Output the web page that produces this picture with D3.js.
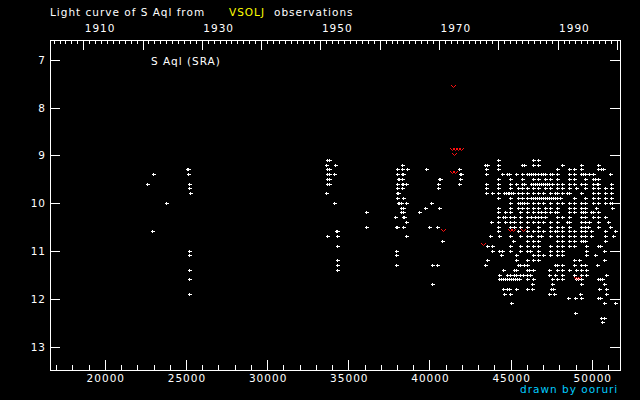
<html>
<head>
<meta charset="utf-8">
<script src="https://cdn.jsdelivr.net/npm/d3@7"></script>
<style>
  body { margin: 0; background: #000; }
  svg text { font-family: "DejaVu Sans", sans-serif; font-size: 10.5px; letter-spacing: 1px; fill: #fff; }
</style>
</head>
<body>
<div id="chart"></div>
<script>
// JD - 2400000 and visual magnitude
const earlyObs = [
  [23019, 9.4], [22649, 9.6], [23819, 10.0], [22957, 10.6],
  [25110, 9.3], [25170, 9.3], [25175, 9.4], [25236, 9.6], [25236, 9.7], [25298, 9.8],
  [25236, 11.0], [25236, 11.1], [25236, 11.4], [25236, 11.6], [25236, 11.9]
];

const fiftiesObs = [
  [33700, 9.1], [33824, 9.1], [33680, 9.2], [34230, 9.2], [33700, 9.3], [33824, 9.3],
  [33700, 9.4], [33824, 9.4], [34169, 9.4], [33700, 9.5], [33824, 9.5], [33700, 9.6],
  [33824, 9.6], [33680, 9.8], [34169, 10.0], [34290, 10.6], [34350, 10.6], [33737, 10.7],
  [34316, 10.7], [34316, 10.9], [34316, 11.2], [34316, 11.3], [34316, 11.4],
  [36140, 10.2], [36140, 10.5]
];

const sixtiesObs = [
  [38358, 9.2],
  [38050, 9.3], [38358, 9.3], [38665, 9.3], [39836, 9.3], [41869, 9.3],
  [38050, 9.4], [38358, 9.4], [38420, 9.4], [41900, 9.4], [41960, 9.4],
  [38080, 9.5], [38140, 9.5], [38358, 9.5], [40590, 9.5], [40650, 9.5], [41930, 9.5],
  [38050, 9.6], [38358, 9.6], [38420, 9.6], [38604, 9.6], [40575, 9.6], [41869, 9.6],
  [38050, 9.7], [38358, 9.7], [40575, 9.7],
  [38050, 9.8], [38111, 9.8],
  [38050, 9.9], [38419, 9.9],
  [38080, 10.0], [38140, 10.0], [38296, 10.0], [38604, 10.0], [40144, 10.0],
  [38296, 10.1], [38419, 10.1], [39774, 10.1], [40620, 10.1],
  [38296, 10.2], [38419, 10.2], [39405, 10.2],
  [37926, 10.3], [38390, 10.3], [38450, 10.3],
  [38604, 10.4],
  [37988, 10.5], [38050, 10.5], [38419, 10.5], [40021, 10.5], [40513, 10.5],
  [38604, 10.7], [40822, 10.8],
  [37988, 11.0], [37988, 11.1], [37988, 11.3], [40206, 11.3], [40513, 11.3],
  [40206, 11.7]
];

// recent observations, grouped by magnitude
const recentRows = [
  [9.1, [44232, 46429, 46737]],
  [9.2, [43431, 43555, 44232, 45751, 45874, 46429, 46737, 48215, 49385, 50432]],
  [9.3, [43493, 44232, 47866, 48646, 48954, 49385, 50432, 50617, 50740]],
  [9.4, [43493, 44519, 44827, 44951, 45361, 45751, 46059, 46182, 46306, 46429, 46552, 46737, 46880, 47004, 47168, 47455, 47599, 47907, 48646, 48954, 49385, 49508, 49631, 49878, 50124, 51171]],
  [9.5, [44232, 45012, 45751, 46429, 46737, 47168, 47455, 47907, 48646, 48954, 49631, 50124, 50247, 50432]],
  [9.6, [43493, 44232, 45012, 45341, 45751, 45874, 46306, 46429, 46552, 46675, 46798, 46921, 47045, 47168, 47291, 47414, 47578, 47907, 48215, 48646, 48954, 49385, 49631, 50124, 50329, 50432, 51233]],
  [9.7, [43493, 44232, 45012, 45505, 45751, 46059, 46429, 46737, 47168, 47455, 47907, 48215, 48646, 49056, 49631, 50124, 50432, 50863, 51233]],
  [9.8, [43493, 43904, 44232, 44643, 44745, 44848, 44951, 45074, 45197, 45505, 45751, 46059, 46429, 46737, 47045, 47455, 47763, 47907, 48215, 48523, 48646, 49385, 50124, 50432, 50863, 51233]],
  [9.9, [44232, 45012, 45505, 45751, 46059, 46306, 46429, 46552, 46675, 46798, 46921, 47045, 47168, 47291, 47414, 47537, 47661, 47784, 47907, 48071, 48954, 49631, 50124, 50432, 50863, 51233]],
  [10.0, [45012, 45505, 45628, 45751, 45874, 46059, 46429, 46737, 47045, 47455, 47907, 48215, 48646, 48954, 49385, 49631, 50124, 50432, 50863, 51171, 51294]],
  [10.1, [44232, 45012, 45505, 45751, 46059, 46429, 46737, 47168, 47455, 47907, 48646, 48954, 49385, 49631, 50309, 51294]],
  [10.2, [44232, 44663, 45012, 45628, 46059, 46429, 46737, 46880, 47168, 47455, 47763, 47907, 48646, 48954, 49385, 49508, 49631, 50001, 50124, 50432]],
  [10.3, [44232, 44540, 44663, 45012, 45258, 45628, 46059, 46306, 46552, 46737, 46921, 47168, 47907, 48215, 48646, 49385, 49631, 50124, 50432, 50863]],
  [10.4, [43842, 44232, 44663, 45012, 45258, 45628, 46059, 46429, 46737, 47045, 47455, 47907, 48523, 48646, 49385, 49631, 49878, 50432, 51048]],
  [10.5, [44232, 45012, 45258, 45628, 46059, 46737, 47455, 47907, 48215, 48646, 49385, 49631, 49816, 50432, 51171]],
  [10.6, [44232, 45505, 46059, 46429, 46737, 47045, 47455, 47763, 47907, 48215, 48646, 48954, 49385, 49631, 50001, 50863, 51479]],
  [10.7, [43780, 44335, 45012, 45628, 46059, 46306, 46737, 46880, 47455, 47907, 48215, 48646, 48954, 49385, 49631, 50001, 50863, 51356]],
  [10.8, [45197, 46059, 46429, 46737, 47907, 48215, 48646, 48954, 49385, 49508, 49631, 50863]],
  [10.9, [43596, 43904, 45012, 45628, 46059, 46429, 46737, 47455, 47907, 48215, 48646, 48954, 49693, 50432, 50555]],
  [11.0, [43904, 44335, 44519, 45012, 45628, 46059, 46244, 46737, 47455, 47907, 48215, 49693, 50801]],
  [11.1, [44458, 45382, 46429, 46737, 47045, 47455, 47907, 48215, 49693, 50247]],
  [11.2, [43596, 45382, 46059, 46429, 46737, 48954, 49262, 50801]],
  [11.3, [43472, 45505, 45628, 45874, 46059, 47784, 47907, 48215, 48954, 49385, 49631, 50370]],
  [11.4, [44581, 45258, 45382, 46059, 46182, 46429, 47414, 47907, 48215, 48646, 49077, 49385, 49693]],
  [11.5, [44335, 44827, 45012, 45258, 45382, 45628, 45813, 46059, 46244, 47414, 47784, 48215, 48954, 49385, 49693, 50924]],
  [11.6, [44335, 44458, 44581, 44704, 44827, 44951, 45074, 45197, 45320, 45443, 45566, 46059, 46429, 47599, 47907, 48215, 49077, 49200, 49385, 50432, 50555, 50679]],
  [11.7, [46367, 47599, 49385, 50801]],
  [11.8, [44581, 44827, 44951, 45382, 46059, 46367, 47537, 47661, 50493, 50924]],
  [11.9, [44643, 45012, 47414, 47722, 49324, 50924]],
  [12.0, [48584, 49015, 49385, 50432, 50555]],
  [12.1, [45074, 50801, 51479]],
  [12.3, [49015]],
  [12.4, [50617, 50801]],
  [12.5, [50679]]
];

// red "v" marks
const redObs = [
  [41500, 7.56], [41419, 8.88], [41604, 8.88], [41789, 8.88], [41973, 8.88],
  [41542, 8.97], [41419, 9.36], [41604, 9.36], [40883, 10.57],
  [45012, 10.56], [45197, 10.56], [45813, 10.56], [43349, 10.87],
  [49077, 11.57], [49200, 11.57]
];

const magTicks = [7, 8, 9, 10, 11, 12, 13];
const jdMajor = [20000, 25000, 30000, 35000, 40000, 45000, 50000];
const yearLabels = [1910, 1930, 1950, 1970, 1990];

const width = 640, height = 400;
const svg = d3.select("#chart").append("svg")
  .attr("width", width).attr("height", height)
  .style("background", "#000");

const x = d3.scaleLinear().domain([16655, 51768]).range([50, 620]);
const y = d3.scaleLinear().domain([6.596, 13.496]).range([40, 370]);
const yearOf = jd => 2000 + (jd - 51544.5) / 365.25;
const xYear = d3.scaleLinear().domain([yearOf(16655), yearOf(51768)]).range([50, 620]);

function styleAxis(g) {
  g.select(".domain").remove();
  g.attr("font-family", null).attr("font-size", null);
  g.selectAll("line").attr("stroke", "#fff").attr("shape-rendering", "crispEdges");
  g.selectAll("text").attr("fill", "#fff");
}

// bottom: JD
const jdMinor = d3.range(17000, 51001, 1000).filter(v => v % 5000 !== 0);
svg.append("g").attr("transform", "translate(0.5,370)")
  .call(d3.axisBottom(x).tickValues(jdMinor).tickSize(-5).tickFormat(""))
  .call(styleAxis);
svg.append("g").attr("transform", "translate(0.5,370)")
  .call(d3.axisBottom(x).tickValues(jdMajor).tickSize(-10).tickPadding(4.3).tickFormat(d3.format("d")))
  .call(styleAxis)
  .selectAll("text").attr("dx", "0.5");

// top: year
const yearMinor = d3.range(1905, 2001).filter(v => v % 10 !== 0);
const yearMajor = d3.range(1910, 2001, 10);
svg.append("g").attr("transform", "translate(0.5,40)")
  .call(d3.axisTop(xYear).tickValues(yearMinor).tickSize(-4).tickFormat(""))
  .call(styleAxis);
svg.append("g").attr("transform", "translate(0.5,40)")
  .call(d3.axisTop(xYear).tickValues(yearMajor).tickSize(-10).tickPadding(8.5)
    .tickFormat(d => yearLabels.includes(d) ? d : ""))
  .call(styleAxis)
  .selectAll("text").attr("text-anchor", "start").attr("x", 1);

// left / right: magnitude
svg.append("g").attr("transform", "translate(50,0.5)")
  .call(d3.axisLeft(y).tickValues(magTicks).tickSize(-10).tickPadding(4).tickFormat(d3.format("d")))
  .call(styleAxis);
svg.append("g").attr("transform", "translate(620,0.5)")
  .call(d3.axisRight(y).tickValues(magTicks).tickSize(-10).tickFormat(""))
  .call(styleAxis);

// frame
svg.append("rect")
  .attr("x", 50.5).attr("y", 40.5).attr("width", 570).attr("height", 330)
  .attr("fill", "none").attr("stroke", "#fff").attr("shape-rendering", "crispEdges");

// observations
const recentObs = recentRows.flatMap(([m, jds]) => jds.map(j => [j, m]));
const whiteObs = earlyObs.concat(fiftiesObs, sixtiesObs, recentObs);

svg.append("g")
  .selectAll("path")
  .data(whiteObs)
  .join("path")
  .attr("d", d => {
    const cx = Math.round(x(d[0])), cy = Math.round(y(d[1]));
    return `M${cx - 1.5},${cy + 0.5}h4M${cx + 0.5},${cy - 1}v3`;
  })
  .attr("stroke", "#fff")
  .attr("stroke-width", 1)
  .attr("shape-rendering", "crispEdges");

svg.append("g")
  .selectAll("path")
  .data(redObs)
  .join("path")
  .attr("d", d => {
    const cx = Math.round(x(d[0])), cy = Math.round(y(d[1]));
    return `M${cx - 2},${cy - 1}L${cx + 0.5},${cy + 1.5}L${cx + 3},${cy - 1}`;
  })
  .attr("fill", "none")
  .attr("stroke", "#ff1010")
  .attr("stroke-width", 1);

// texts
svg.append("text").attr("x", 50).attr("y", 16).text("Light curve of S Aql from");
svg.append("text").attr("x", 229).attr("y", 16).style("fill", "#ffff00").text("VSOLJ");
svg.append("text").attr("x", 274).attr("y", 16).text("observations");
svg.append("text").attr("x", 151).attr("y", 65).text("S Aql (SRA)");
svg.append("text").attr("x", 520).attr("y", 393).style("fill", "#00ccff").text("drawn by ooruri");
</script>
</body>
</html>
